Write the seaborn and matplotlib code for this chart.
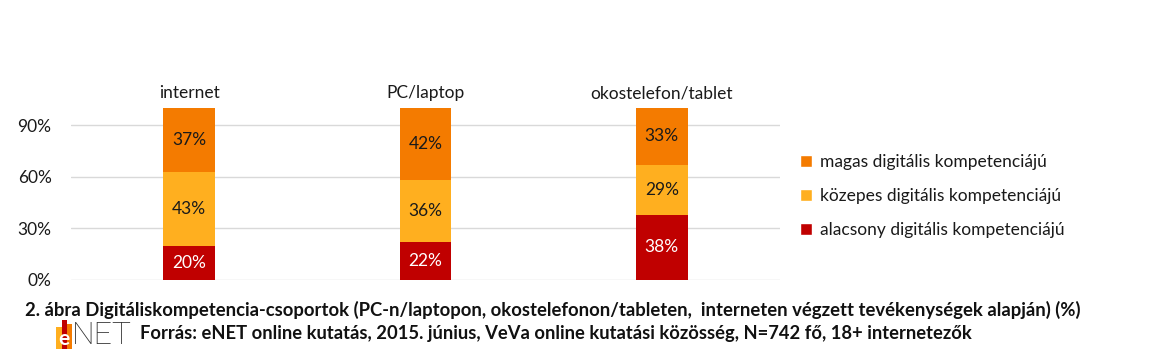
import matplotlib
matplotlib.use("Agg")
import matplotlib.pyplot as plt
from matplotlib.patches import Patch, Rectangle
import seaborn as sns
import pandas as pd
import numpy as np

categories = ["internet", "PC/laptop", "okostelefon/tablet"]
alacsony = [20, 22, 38]
kozepes = [43, 36, 29]
magas = [37, 42, 33]
series_names = ["magas digitális kompetenciájú", "közepes digitális kompetenciájú", "alacsony digitális kompetenciájú"]
yticks = [0, 30, 60, 90]
ytick_labels = ["0%", "30%", "60%", "90%"]
caption1 = "2. ábra Digitáliskompetencia-csoportok (PC-n/laptopon, okostelefonon/tableten,  interneten végzett tevékenységek alapján) (%)"
caption2 = "Forrás: eNET online kutatás, 2015. június, VeVa online kutatási közösség, N=742 fő, 18+ internetezők"

colors = {"magas": "#F47B00", "kozepes": "#FFAF1F", "alacsony": "#C00000"}

sns.set_theme(style="white")
plt.rcParams["font.family"] = ["Lato", "DejaVu Sans"]

fig = plt.figure(figsize=(11.59, 3.57), dpi=100)
ax = fig.add_axes([71/1159, 1 - 280/357, (780-71)/1159, (280-108)/357])

df = pd.DataFrame({"cat": categories,
                   "low": alacsony,
                   "mid": np.array(alacsony) + np.array(kozepes),
                   "top": np.array(alacsony) + np.array(kozepes) + np.array(magas)})

bw = 0.22
for col, c in [("top", colors["magas"]), ("mid", colors["kozepes"]), ("low", colors["alacsony"])]:
    sns.barplot(data=df, x="cat", y=col, color=c, width=bw, saturation=1, ax=ax,
                order=categories, linewidth=0, edgecolor="none")

fs = 12.5
for i in range(len(categories)):
    a, k, m = alacsony[i], kozepes[i], magas[i]
    ax.text(i, a / 2, f"{a}%", ha="center", va="center", color="white", fontsize=fs)
    ax.text(i, a + k / 2, f"{k}%", ha="center", va="center", color="#1a1a1a", fontsize=fs)
    ax.text(i, a + k + m / 2, f"{m}%", ha="center", va="center", color="#1a1a1a", fontsize=fs)
    ax.text(i, a + k + m + 4, categories[i], ha="center", va="bottom", color="#1a1a1a", fontsize=fs)

ax.set_xlim(-0.5, 2.5)
ax.set_ylim(0, 100)
ax.set_yticks(yticks)
ax.set_yticklabels(ytick_labels, fontsize=fs, color="#1a1a1a")
ax.set_xticks([])
ax.set_xlabel("")
ax.set_ylabel("")
ax.tick_params(axis="y", length=0, pad=14)
ax.grid(False)
for y in yticks:
    ax.axhline(y, color="#D9D9D9", lw=1, zorder=0)
for s in ax.spines.values():
    s.set_visible(False)
ax.set_axisbelow(True)

handles = [Patch(facecolor=colors["magas"]), Patch(facecolor=colors["kozepes"]), Patch(facecolor=colors["alacsony"])]
leg = fig.legend(handles, series_names, loc="center left", bbox_to_anchor=(784/1159, 1 - 196/357),
                 frameon=False, fontsize=fs, handlelength=0.7, handleheight=0.7, handletextpad=0.5,
                 labelspacing=1.05, labelcolor="#1a1a1a")

fig.text(25/1159, 1 - 310/357, caption1, fontsize=13.3, fontweight="bold", va="center", ha="left", color="#111111")
fig.text(140/1159, 1 - 333/357, caption2, fontsize=13.2, fontweight="bold", va="center", ha="left", color="#111111")

# logo: eNET
def rect(x0, y0, x1, y1, c):
    fig.patches.append(Rectangle((x0 / 1159, 1 - y1 / 357), (x1 - x0) / 1159, (y1 - y0) / 357,
                                 transform=fig.transFigure, facecolor=c, edgecolor="none"))
rect(56, 327, 62, 349, "#FFAF1F")
rect(62, 320, 67, 349, "#C00000")
rect(67, 324, 72, 349, "#F47B00")
fig.text(64 / 1159, 1 - 339 / 357, "e", fontsize=15, color="white", ha="center", va="center", fontweight="bold")
fig.text(72 / 1159, 1 - 336 / 357, "NET", fontsize=23, color="#333333", ha="left", va="center",
         family=["Roboto", "DejaVu Sans"], fontweight="light")

fig.savefig("out.png", dpi=100)
